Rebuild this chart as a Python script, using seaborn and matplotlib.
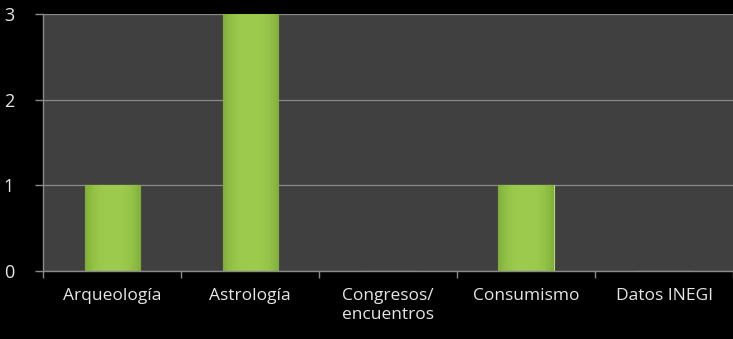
import numpy as np
import pandas as pd
import seaborn as sns
import matplotlib.pyplot as plt

# DATA
categories = ["Arqueología", "Astrología", "Congresos/\nencuentros", "Consumismo", "Datos INEGI"]
counts = [1, 3, 0, 1, 0]
y_ticks = [0, 1, 2, 3]

BAR_GREEN = "#98c64a"
PLOT_GRAY = "#404040"
LINE_GRAY = "#8a8a8a"
TEXT_COLOR = "#e6e6e6"


def shade_bars(ax):
    # soft horizontal gradient, darker at the bar edges
    base = np.array([0x9c, 0xcb, 0x4e]) / 255
    edge = np.array([0x80, 0xae, 0x38]) / 255
    t = np.abs(np.linspace(-1, 1, 60)) ** 3
    row = base[None, :] * (1 - t[:, None]) + edge[None, :] * t[:, None]
    img = np.repeat(row[None, :, :], 2, axis=0)
    for patch in ax.patches:
        h = patch.get_height()
        if h <= 0:
            continue
        x0, w = patch.get_x(), patch.get_width()
        im = ax.imshow(img, extent=[x0, x0 + w, 0, h], aspect="auto",
                       zorder=patch.get_zorder() + 0.1, interpolation="bilinear")
        im.set_clip_path(patch)
    ax.set_aspect("auto")


def main():
    df = pd.DataFrame({"category": categories, "count": counts})

    sns.set_style("dark")
    plt.rcParams["font.family"] = ["Open Sans", "DejaVu Sans"]

    fig = plt.figure(figsize=(7.33, 3.39), dpi=100, facecolor="black")
    ax = fig.add_axes([0.059, 0.2006, 0.941, 0.758])
    ax.set_facecolor(PLOT_GRAY)

    sns.barplot(data=df, x="category", y="count", color=BAR_GREEN,
                width=0.4, edgecolor="#b9dc78", linewidth=0.8, ax=ax,
                saturation=1)
    shade_bars(ax)

    ax.set_xlim(-0.5, len(categories) - 0.5)
    ax.set_ylim(0, 3)
    ax.set_yticks(y_ticks)
    ax.yaxis.grid(True, color=LINE_GRAY, linewidth=0.9)
    ax.xaxis.grid(False)
    ax.set_axisbelow(True)

    # tick marks between categories, labels centred
    ax.set_xticks(np.arange(-0.5, len(categories)), minor=True)
    ax.tick_params(axis="both", which="both", bottom=True, left=True)
    ax.tick_params(axis="x", which="major", length=0, pad=12,
                   labelsize=12.5, labelcolor=TEXT_COLOR)
    ax.tick_params(axis="x", which="minor", length=5, color=LINE_GRAY, width=1)
    ax.tick_params(axis="y", length=6, color=LINE_GRAY, width=1, pad=15,
                   labelsize=13, labelcolor=TEXT_COLOR)
    for lbl in ax.get_xticklabels():
        lbl.set_linespacing(1.3)

    for side in ["top", "right"]:
        ax.spines[side].set_visible(False)
    for side in ["left", "bottom"]:
        ax.spines[side].set_visible(True)
        ax.spines[side].set_color(LINE_GRAY)
        ax.spines[side].set_linewidth(1)

    ax.set_xlabel("")
    ax.set_ylabel("")

    fig.savefig("out.png", dpi=100, facecolor="black")
    plt.close(fig)


if __name__ == "__main__":
    main()
